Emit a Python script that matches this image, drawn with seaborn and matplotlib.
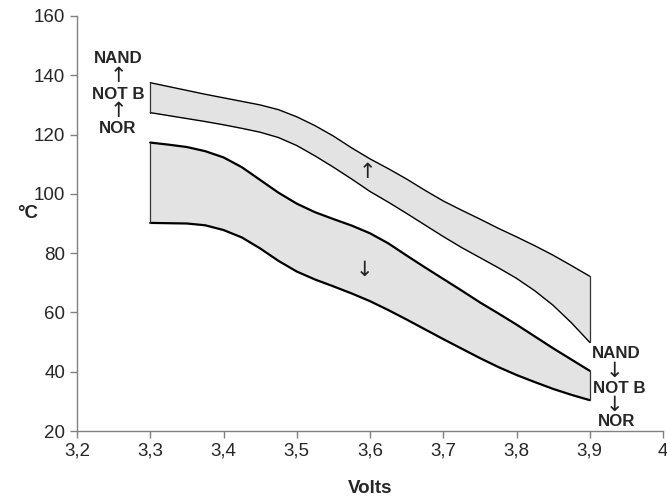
import matplotlib
matplotlib.use("Agg")
import matplotlib.pyplot as plt
import seaborn as sns
from matplotlib.ticker import FuncFormatter

# supply voltage (V), read every 0.025 V
volts = [3.3, 3.325, 3.35, 3.375, 3.4, 3.425, 3.45, 3.475, 3.5, 3.525, 3.55, 3.575,
         3.6, 3.625, 3.65, 3.675, 3.7, 3.725, 3.75, 3.775, 3.8, 3.825, 3.85, 3.875, 3.9]

# rising-temperature band (upper)
up_top = [137.5, 136.2, 134.9, 133.6, 132.4, 131.2, 130, 128.4, 126, 123, 119.5, 115.5,
          111.8, 108.5, 105, 101.2, 97.6, 94.5, 91.5, 88.4, 85.5, 82.5, 79.3, 75.8, 72.2]
up_bot = [127.4, 126.4, 125.4, 124.4, 123.3, 122.1, 120.8, 119, 116.3, 112.8, 109, 105,
          100.8, 97.2, 93.4, 89.5, 85.6, 81.9, 78.5, 75.1, 71.5, 67.3, 62.4, 56.5, 49.9]

# falling-temperature band (lower)
down_top = [117.3, 116.6, 115.8, 114.4, 112.3, 109, 104.7, 100.4, 96.7, 93.8, 91.5, 89.3,
            86.7, 83.3, 79.2, 75.2, 71.3, 67.4, 63.4, 59.7, 55.9, 51.9, 47.9, 44.1, 40.3]
down_bot = [90.2, 90.1, 90, 89.4, 87.8, 85.3, 81.6, 77.4, 73.8, 71.1, 68.8, 66.4,
            63.8, 60.8, 57.6, 54.3, 51, 47.8, 44.6, 41.6, 38.9, 36.5, 34.2, 32.2, 30.4]

x_ticks = [3.2, 3.3, 3.4, 3.5, 3.6, 3.7, 3.8, 3.9, 4.0]
y_ticks = [20, 40, 60, 80, 100, 120, 140, 160]

sns.set_style("ticks")
plt.rcParams['font.family'] = ['Liberation Sans', 'DejaVu Sans']

fig = plt.figure(figsize=(6.67, 5.04), dpi=100)
ax = fig.add_axes([77 / 667, 1 - 431 / 504, 586 / 667, 415 / 504])

fill = '#e3e3e3'
ax.fill_between(volts, up_bot, up_top, color=fill, lw=0)
ax.fill_between(volts, down_bot, down_top, color=fill, lw=0)

for ys, lw in [(up_top, 1.0), (up_bot, 1.0), (down_top, 1.6), (down_bot, 1.6)]:
    sns.lineplot(x=volts, y=ys, ax=ax, color='black', lw=lw)

# closing edges of the bands
for lo, hi in [(up_bot, up_top), (down_bot, down_top)]:
    ax.plot([volts[0], volts[0]], [lo[0], hi[0]], color='#333333', lw=0.9)
    ax.plot([volts[-1], volts[-1]], [lo[-1], hi[-1]], color='#333333', lw=0.9)

ax.set_xlim(3.2, 4.0)
ax.set_ylim(20, 160)
ax.set_xticks(x_ticks)
ax.set_yticks(y_ticks)
ax.xaxis.set_major_formatter(FuncFormatter(lambda v, p: f"{v:g}".replace('.', ',')))
ax.tick_params(labelsize=13.5, length=5, color='#808080', width=1)
for s in ['top', 'right']:
    ax.spines[s].set_visible(False)
for s in ['left', 'bottom']:
    ax.spines[s].set_color('#808080')
    ax.spines[s].set_linewidth(1)

ax.set_xlabel('Volts', fontsize=13.5, fontweight='bold')
ax.xaxis.set_label_coords(0.5, -0.118)
ax.set_ylabel('°C', fontsize=13.5, fontweight='bold', rotation=0, va='center')
ax.yaxis.set_label_coords(-0.084, 0.525)

bold = dict(fontsize=12.2, fontweight='bold', ha='center', va='center')
arr = dict(fontsize=15, ha='center', va='center', family=['DejaVu Sans'], color='#222222')

# left labels (heating sequence)
ax.text(3.256, 145.8, 'NAND', **bold)
ax.text(3.256, 139.6, '↑', **arr)
ax.text(3.256, 133.4, 'NOT B', **bold)
ax.text(3.256, 127.9, '↑', **arr)
ax.text(3.256, 122.2, 'NOR', **bold)

# right labels (cooling sequence)
ax.text(3.936, 46.3, 'NAND', **bold)
ax.text(3.934, 40.3, '↓', **arr)
ax.text(3.94, 34.5, 'NOT B', **bold)
ax.text(3.934, 28.7, '↓', **arr)
ax.text(3.936, 23.2, 'NOR', **bold)

# direction arrows inside the bands
ax.text(3.597, 107.4, '↑', **arr)
ax.text(3.593, 74.3, '↓', **arr)

fig.savefig('out.png', dpi=100)
